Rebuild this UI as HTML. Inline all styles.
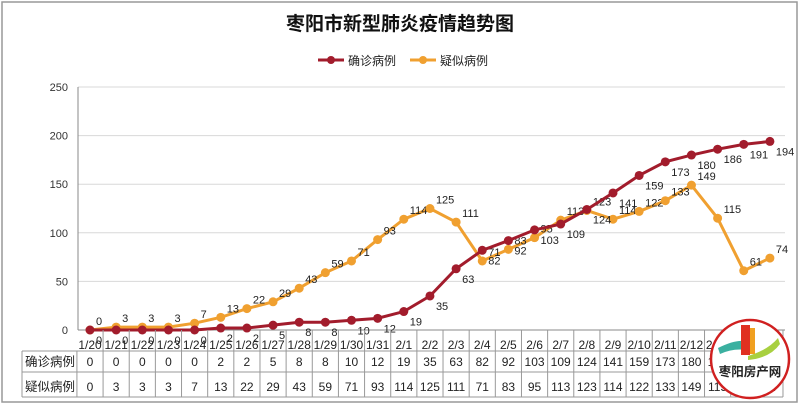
<!DOCTYPE html>
<html><head><meta charset="utf-8">
<style>
body{margin:0;background:#fff;font-family:"Liberation Sans","Noto Sans CJK SC",sans-serif;}
#wrap{position:relative;width:800px;height:406px;overflow:hidden;}
</style></head>
<body>
<div id="wrap">
<svg id="chart" width="800" height="406" xmlns="http://www.w3.org/2000/svg">
<rect x="2" y="2" width="795" height="400" fill="#fff" stroke="#999" stroke-width="1.5"/>
<text x="400" y="30" text-anchor="middle" font-size="19" font-weight="bold" fill="#111">枣阳市新型肺炎疫情趋势图</text>
<g>
<g>
<line x1="318" y1="60" x2="344" y2="60" stroke="#A21C2C" stroke-width="3"/><circle cx="331" cy="60" r="4" fill="#A21C2C"/>
<text x="348" y="65" font-size="12" fill="#222">确诊病例</text></g>
<g>
<line x1="410" y1="60" x2="436" y2="60" stroke="#F0A030" stroke-width="3"/><circle cx="423" cy="60" r="4" fill="#F0A030"/>
<text x="440" y="65" font-size="12" fill="#222">疑似病例</text></g>
</g>
<g id="grid"></g><g id="axes"></g><g id="series"></g><g id="table"></g>
<g>
<circle cx="750" cy="359" r="39" fill="#fff" stroke="#d02020" stroke-width="2.5"/>
<path d="M718 348 Q738 338 748 342 L747 350 Q733 348 720 354Z" fill="#3bb0a0"/>
<path d="M748 356 Q768 350 778 338 L780 344 Q770 358 748 360Z" fill="#a8d040"/>
<rect x="741" y="325" width="9" height="30" fill="#e03020"/><rect x="750" y="328" width="5" height="26" fill="#f0a020"/>
<text x="750" y="376" text-anchor="middle" font-size="12.5" font-weight="bold" fill="#222">枣阳房产网</text>
</g>
</svg>
</div>
<script>
const dates=["1/20","1/21","1/22","1/23","1/24","1/25","1/26","1/27","1/28","1/29","1/30","1/31","2/1","2/2","2/3","2/4","2/5","2/6","2/7","2/8","2/9","2/10","2/11","2/12","2/13","2/14","2/15"];
const confirmed=[0,0,0,0,0,2,2,5,8,8,10,12,19,35,63,82,92,103,109,124,141,159,173,180,186,191,194];
const suspected=[0,3,3,3,7,13,22,29,43,59,71,93,114,125,111,71,83,95,113,123,114,122,133,149,115,61,74];
const yTicks=[0,50,100,150,200,250];
const NS="http://www.w3.org/2000/svg";
const x0=90,dx=26.15,yBase=330,yScale=(330-87)/250;
function xs(i){return x0+i*dx;}
function ys(v){return yBase-v*yScale;}
function mk(tag,attrs,parent,txt){const e=document.createElementNS(NS,tag);for(const k in attrs)e.setAttribute(k,attrs[k]);if(txt!==undefined)e.textContent=txt;parent.appendChild(e);return e;}
const grid=document.getElementById('grid'),axes=document.getElementById('axes'),ser=document.getElementById('series'),tbl=document.getElementById('table');
yTicks.forEach(t=>{
 const l=mk('line',{x1:78,x2:785,y1:ys(t),y2:ys(t),stroke:t===0?'#888':'#d8d8d8','stroke-width':1},grid);
 
 
 const tx=mk('text',{x:68,y:ys(t)+4,'text-anchor':'end','font-size':11,fill:'#333'},axes,String(t));
 
 
});
const ax=mk('line',{x1:78,x2:78,y1:87,y2:330,stroke:'#888'},axes);


function drawSeries(data,color,name,lx,ly){
 const g=mk('g',{},ser);
 
 
 const pl=mk('polyline',{points:data.map((v,i)=>xs(i)+','+ys(v)).join(' '),fill:'none',stroke:color,'stroke-width':3},g);
 
 
 data.forEach((v,i)=>{
  const c=mk('circle',{cx:xs(i),cy:ys(v),r:4.5,fill:color},g);
  
  
  const t=mk('text',{x:xs(i)+lx,y:ys(v)+ly,'font-size':11,fill:'#222'},g,String(v));
  
  
 });
}
drawSeries(suspected,'#F0A030','suspected',6,-5);
drawSeries(confirmed,'#A21C2C','confirmed',6,14);
const tblTop=330,rowH=[21,21,25],tblLeft=22;
const rows=[dates,confirmed,suspected],labels=["","确诊病例","疑似病例"];
let yy0=tblTop;
const colL=i=>xs(i)-dx/2;
rows.forEach((r,ri)=>{
 const h=rowH[ri];
 if(ri>0){
  const lb=mk('text',{x:tblLeft+3,y:yy0+h-6,'font-size':12.5,fill:'#222'},tbl,labels[ri]);
  
  
 }
 r.forEach((v,i)=>{
  const t=mk('text',{x:xs(i),y:yy0+h-(ri===0?2:6),'text-anchor':'middle','font-size':12,fill:'#222'},tbl,String(v));
  
  
 });
 yy0+=h;
});
const yb=tblTop+rowH[0];
[yb,yb+rowH[1],yb+rowH[1]+rowH[2]].forEach(yy=>{mk('line',{x1:tblLeft,x2:colL(27),y1:yy,y2:yy,stroke:'#999'},tbl);});
mk('line',{x1:tblLeft,x2:tblLeft,y1:yb,y2:yy0,stroke:'#999'},tbl);
for(let i=0;i<=27;i++){mk('line',{x1:colL(i),x2:colL(i),y1:i===0?yb:tblTop,y2:yy0,stroke:'#999'},tbl);}
</script>
</body></html>
